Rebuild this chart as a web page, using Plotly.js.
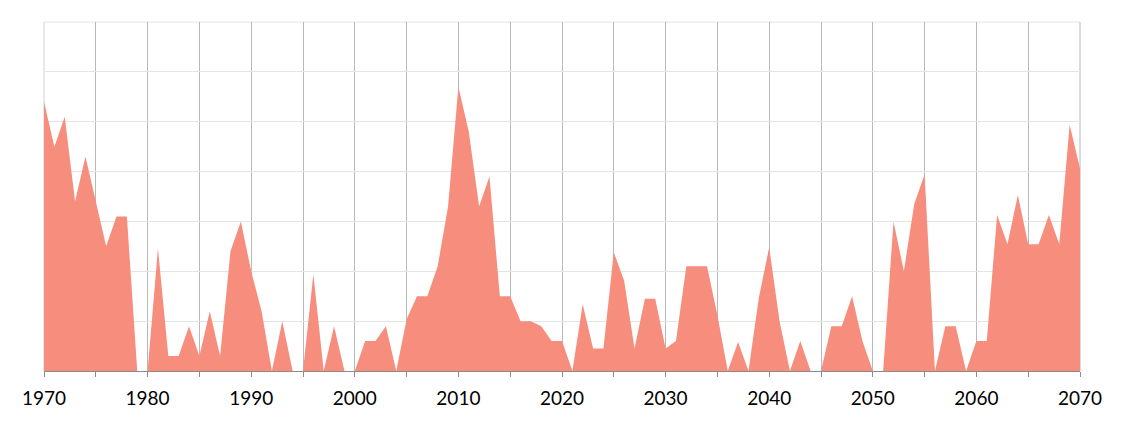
<!DOCTYPE html>
<html>
<head>
<meta charset="utf-8">
<script src="https://cdn.plot.ly/plotly-3.0.1.min.js"></script>
<style>html,body{margin:0;padding:0;background:#fff;}#chart{width:1124px;height:423px;}</style>
</head>
<body>
<div id="chart"></div>
<script>
const years = [];
for (let y = 1970; y <= 2070; y++) years.push(y);
const values = [
  54, 45, 51, 34, 43, 34, 25, 31, 31, 0,
  0, 24.6, 3, 3, 9, 3, 12, 3, 24, 30,
  20, 12, 0, 10, 0, 0, 19.4, 0, 9, 0,
  0, 6, 6, 9, 0, 10.4, 15, 15, 21, 33,
  57, 48, 33, 39, 15, 15, 10, 10, 9, 6,
  6, 0, 13.4, 4.5, 4.5, 23.8, 18.1, 4.5, 14.5, 14.5,
  4.5, 6, 21, 21, 21, 11.2, 0, 5.8, 0, 14.7,
  24.8, 10, 0, 6, 0, 0, 9, 9, 15, 6,
  0, 0, 30, 20, 33.5, 39.4, 0, 9, 9, 0,
  6, 6, 31.3, 25.4, 35.3, 25.4, 25.4, 31.3, 25.4, 49.4,
  40.6
];
const tickVals = [1970,1975,1980,1985,1990,1995,2000,2005,2010,2015,2020,2025,2030,2035,2040,2045,2050,2055,2060,2065,2070];
const tickText = ["1970","","1980","","1990","","2000","","2010","","2020","","2030","","2040","","2050","","2060","","2070"];

const trace = {
  x: years, y: values, type: 'scatter', mode: 'lines',
  fill: 'tozeroy', fillcolor: '#F68D7D',
  line: {width: 0, color: '#F68D7D'},
  hoverinfo: 'x+y'
};
const layout = {
  width: 1124, height: 423,
  margin: {l: 44, r: 44, t: 22, b: 52},
  paper_bgcolor: '#fff', plot_bgcolor: '#fff',
  showlegend: false,
  font: {family: 'Lato, "Open Sans", sans-serif', size: 19, color: '#000'},
  xaxis: {
    range: [1970, 2070], tickmode: 'array', tickvals: tickVals, ticktext: tickText,
    showgrid: true, gridcolor: '#b8b8b8', gridwidth: 1,
    ticks: 'outside', ticklen: 5, tickcolor: '#8c8c8c',
    ticklabelstandoff: 5,
    showline: true, linecolor: '#8c8c8c', linewidth: 1,
    zeroline: false, fixedrange: true
  },
  yaxis: {
    range: [0, 70], dtick: 10, showticklabels: false,
    showgrid: true, gridcolor: '#e4e4e4', gridwidth: 1,
    zeroline: false, showline: false, ticks: '', fixedrange: true
  },
  shapes: [
    {type: 'line', xref: 'paper', yref: 'paper', x0: 0, x1: 1, y0: 1, y1: 1, layer: 'below', line: {color: '#e4e4e4', width: 1}},
    {type: 'line', xref: 'paper', yref: 'paper', x0: 0, x1: 0, y0: 0, y1: 1, layer: 'below', line: {color: '#d0d0d0', width: 1}},
    {type: 'line', xref: 'paper', yref: 'paper', x0: 1, x1: 1, y0: 0, y1: 1, layer: 'below', line: {color: '#b8b8b8', width: 1}}
  ]
};
Plotly.newPlot('chart', [trace], layout, {displayModeBar: false, staticPlot: true});
</script>
</body>
</html>
